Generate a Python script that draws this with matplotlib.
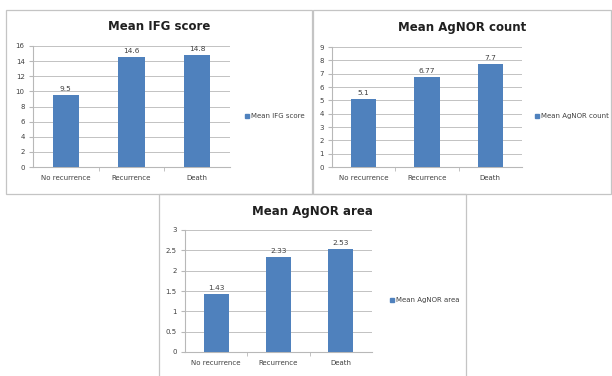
import numpy as np
import matplotlib
matplotlib.use("Agg")
import matplotlib.pyplot as plt
from matplotlib.patches import Rectangle

categories = ["No recurrence", "Recurrence", "Death"]
ifg_score = [9.5, 14.6, 14.8]
ifg_labels = ["9.5", "14.6", "14.8"]
agnor_count = [5.1, 6.77, 7.7]
agnor_count_labels = ["5.1", "6.77", "7.7"]
agnor_area = [1.43, 2.33, 2.53]
agnor_area_labels = ["1.43", "2.33", "2.53"]

W, H = 612, 376
fig = plt.figure(figsize=(W / 100, H / 100), dpi=100)
fig.patch.set_facecolor("white")

bar_color = "#4F81BD"
grid_color = "#b8b8b8"
text_color = "#404040"


def fx(px):
    return px / W


def fy(py):
    return 1 - py / H


def panel(box, plot, values, labels, title, ymax, ystep, ticklabels, legend_xy, legend_text):
    # outer frame like the Excel chart area
    x0, y0, x1, y1 = box
    fig.add_artist(Rectangle((fx(x0), fy(y1)), fx(x1 - x0), (y1 - y0) / H,
                             transform=fig.transFigure, fill=False,
                             edgecolor="#c4c4c4", lw=0.9))
    l, t, r, b = plot
    ax = fig.add_axes([fx(l), fy(b), fx(r - l), (b - t) / H])
    x = np.arange(len(categories))
    ax.bar(x, values, width=0.4, color=bar_color, zorder=3)
    for xi, v, s in zip(x, values, labels):
        ax.text(xi, v + ymax * 0.025, s, ha="center", va="bottom",
                fontsize=5.3, color=text_color)
    ax.set_xlim(-0.5, 2.5)
    ax.set_ylim(0, ymax)
    ticks = np.arange(0, ymax + ystep / 2, ystep)
    ax.set_yticks(ticks)
    ax.set_yticklabels(ticklabels, fontsize=5, color=text_color)
    ax.set_xticks(x)
    ax.set_xticklabels(categories, fontsize=5, color=text_color)
    ax.set_xticks([0.5, 1.5], minor=True)
    ax.tick_params(axis="x", which="major", length=0, pad=6)
    ax.tick_params(axis="x", which="minor", length=3, color=grid_color, direction="out")
    ax.tick_params(axis="y", length=3, color=grid_color, pad=3)
    ax.yaxis.grid(True, color=grid_color, lw=0.6, zorder=0)
    ax.set_axisbelow(True)
    for s in ["top", "right"]:
        ax.spines[s].set_visible(False)
    for s in ["left", "bottom"]:
        ax.spines[s].set_color(grid_color)
        ax.spines[s].set_linewidth(0.8)
    fig.text(fx((x0 + x1) / 2), fy(y0 + 17), title, ha="center", va="center",
             fontsize=8.5, fontweight="bold", color="#202020")
    lx, ly = legend_xy
    fig.add_artist(Rectangle((fx(lx), fy(ly + 2)), fx(4), 4 / H,
                             transform=fig.transFigure, color=bar_color))
    fig.text(fx(lx + 6), fy(ly), legend_text, ha="left", va="center",
             fontsize=5, color=text_color)


panel((6, 10, 312, 194), (33, 46, 230, 167), ifg_score, ifg_labels,
      "Mean IFG score", 16, 2, ["0", "2", "4", "6", "8", "10", "12", "14", "16"],
      (245, 116), "Mean IFG score")
panel((313, 10, 611, 194), (332, 47, 522, 167), agnor_count, agnor_count_labels,
      "Mean AgNOR count", 9, 1, [str(i) for i in range(10)],
      (535, 116), "Mean AgNOR count")
panel((159, 194, 466, 380), (185, 230, 372, 352), agnor_area, agnor_area_labels,
      "Mean AgNOR area", 3, 0.5, ["0", "0.5", "1", "1.5", "2", "2.5", "3"],
      (390, 300), "Mean AgNOR area")

fig.savefig("out.png", dpi=100)
